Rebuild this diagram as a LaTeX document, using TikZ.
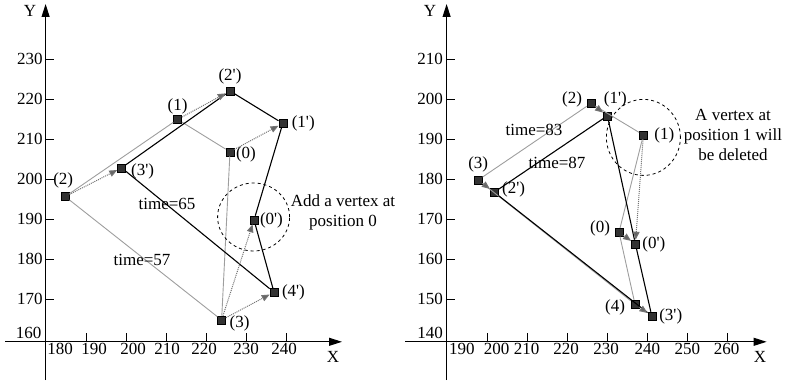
\documentclass[tikz,border=0pt]{standalone}
\usepackage{fontspec}
\setmainfont{Liberation Serif}
\usepackage{tikz}
\usetikzlibrary{arrows.meta,positioning}
\newcommand{\pr}{\textquotesingle}
\tikzset{
  vtx/.style={draw=black, fill=black!80, minimum size=8pt, inner sep=0pt, line width=0.6pt},
  tag/.style={inner sep=0.5pt, font=\fontsize{17}{20}\selectfont},
  note/.style={align=center, inner sep=0pt, font=\fontsize{17}{20}\selectfont},
  num/.style={inner sep=0pt, font=\fontsize{17}{20}\selectfont},
  oldedge/.style={draw=black!38, line width=0.9pt},
  newedge/.style={draw=black, line width=1.1pt},
  move/.style={draw=black!55, densely dotted, line width=1pt, -{Triangle[length=8pt,width=6.5pt,fill=black!60]}},
  axis/.style={line width=1pt, -{Triangle[length=13pt,width=8pt]}},
  tick/.style={line width=0.9pt},
  zone/.style={dashed, line width=0.8pt}
}

\begin{document}
\begin{tikzpicture}
  \useasboundingbox (0,0) rectangle (787pt,384pt);
  \begin{scope}[x=4pt, y=4pt, shift={(-674pt,-595pt)}]
    \coordinate (lxa) at (169.75,159.3);
    \coordinate (lxb) at (254,159.3);
    \coordinate (lya) at (179.9,149.75);
    \coordinate (lyb) at (179.9,243.75);
    \draw[axis] (lxa) -- (lxb);
    \draw[axis] (lya) -- (lyb);
    \node[num] (lxname) at (251.75,155.5) {X};
    \node[num] (lyname) at (176,242) {Y};
    \foreach \t in {190,200,...,240} \draw[tick] (\t,159.3) -- ++(0,2.25);
    \foreach \t in {170,180,...,230} \draw[tick] (179.9,\t) -- ++(2,0);
    \foreach \p/\v in {183.5/180, 192/190, 201.75/200, 210.25/210, 219.5/220, 230/230, 239.5/240}
      \node[num, anchor=north] (lx\v) at (\p,158.9) {\v};
    \foreach \v in {170,180,...,230}
      \node[num, anchor=east] (ly\v) at (179.2,\v) {\v};
    \node[num, anchor=east] (ly160) at (178.9,161.5) {160};

    \node[vtx] (L2) at (184.8,195.6) {};
    \node[vtx] (L1) at (212.9,214.9) {};
    \node[vtx] (L0) at (226,206.8) {};
    \node[vtx] (L3) at (223.9,164.75) {};
    \node[vtx] (L3p) at (198.9,202.8) {};
    \node[vtx] (L2p) at (226,222) {};
    \node[vtx] (L1p) at (239.2,213.9) {};
    \node[vtx] (L0p) at (232,189.75) {};
    \node[vtx] (L4p) at (237,171.7) {};

    \node[tag, above=3pt of L2, xshift=-2pt] (t2) {(2)};
    \node[tag, above=0pt of L1] (t1) {(1)};
    \node[tag, right=1pt of L0, yshift=-3pt] (t0) {(0)};
    \node[tag, right=3pt of L3, yshift=-3pt] (t3) {(3)};
    \node[tag, right=4.5pt of L3p, yshift=-4pt] (t3p) {(3\pr)};
    \node[tag, above=1.5pt of L2p] (t2p) {(2\pr)};
    \node[tag, right=4pt of L1p] (t1p) {(1\pr)};
    \node[tag, right=1pt of L0p] (t0p) {(0\pr)};
    \node[tag, right=3pt of L4p] (t4p) {(4\pr)};

    \draw[oldedge] (L2) -- (L1) -- (L0) -- (L3) -- (L2);
    \draw[newedge] (L3p) -- (L2p) -- (L1p) -- (L0p) -- (L4p) -- (L3p);
    \draw[move] (L2) -- (L3p);
    \draw[move] (L1) -- (L2p);
    \draw[move] (L0) -- (L1p);
    \draw[move] (L3) -- (L0p);
    \draw[move] (L3) -- (L4p);

    \draw[zone] (231.9,190.5) ellipse [x radius=36pt, y radius=34pt];
    \node[note] (addnote) at (254.25,191.75) {Add a vertex at\\position 0};
    \node[note] (time65) at (210.25,193.75) {time=65};
    \node[note] (time57) at (204,179.75) {time=57};
  \end{scope}

  \begin{scope}[x=4pt, y=4pt, shift={(-313pt,-515pt)}]
    \coordinate (rxa) at (179.5,139.3);
    \coordinate (rxb) at (269.9,139.3);
    \coordinate (rya) at (189.9,129.75);
    \coordinate (ryb) at (189.9,223.75);
    \draw[axis] (rxa) -- (rxb);
    \draw[axis] (rya) -- (ryb);
    \node[num] (rxname) at (268.25,135.5) {X};
    \node[num] (ryname) at (185.75,222) {Y};
    \foreach \t in {200,210,...,260} \draw[tick] (\t,139.3) -- ++(0,2.25);
    \foreach \t in {150,160,...,210} \draw[tick] (189.9,\t) -- ++(2,0);
    \foreach \p/\v in {193.7/190, 202.4/200, 209.9/210, 219.75/220, 229.75/230, 240.1/240, 250.1/250, 259.9/260}
      \node[num, anchor=north] (rx\v) at (\p,138.9) {\v};
    \foreach \v in {150,160,...,210}
      \node[num, anchor=east] (ry\v) at (189,\v) {\v};
    \node[num, anchor=east] (ry140) at (189,141.5) {140};

    \node[vtx] (R2) at (226,198.9) {};
    \node[vtx] (R1) at (239.1,191) {};
    \node[vtx] (R3) at (197.8,179.75) {};
    \node[vtx] (R0) at (233,166.7) {};
    \node[vtx] (R4) at (237,148.7) {};
    \node[vtx] (R1p) at (230.1,195.8) {};
    \node[vtx] (R2p) at (201.8,176.7) {};
    \node[vtx] (R0p) at (237.1,163.75) {};
    \node[vtx] (R3p) at (241.2,145.75) {};

    \node[tag, left=4pt of R2, yshift=4pt] (u2) {(2)};
    \node[tag, right=6pt of R1] (u1) {(1)};
    \node[tag, above=3pt of R3] (u3) {(3)};
    \node[tag, left=4pt of R0, yshift=4pt] (u0) {(0)};
    \node[tag, left=5pt of R4, yshift=-3pt] (u4) {(4)};
    \node[tag, above=4pt of R1p, xshift=8pt] (u1p) {(1\pr)};
    \node[tag, right=3pt of R2p, yshift=3pt] (u2p) {(2\pr)};
    \node[tag, right=2pt of R0p] (u0p) {(0\pr)};
    \node[tag, right=2.5pt of R3p] (u3p) {(3\pr)};

    \draw[oldedge] (R3) -- (R2) -- (R1) -- (R0) -- (R4) -- (R3);
    \draw[newedge] (R1p) -- (R2p) -- (R3p) -- (R0p) -- (R1p);
    \draw[move] (R2) -- (R1p);
    \draw[move] (R1) -- (R0p);
    \draw[move] (R0) -- (R0p);
    \draw[move] (R3) -- (R2p);
    \draw[move] (R4) -- (R3p);

    \draw[zone] (239.1,190.4) ellipse [x radius=37pt, y radius=38pt];
    \node[note] (delnote) at (261.5,191) {A vertex at\\position 1 will\\be deleted};
    \node[note] (time83) at (211.75,192.25) {time=83};
    \node[note] (time87) at (217.5,184) {time=87};
  \end{scope}
\end{tikzpicture}
\end{document}
